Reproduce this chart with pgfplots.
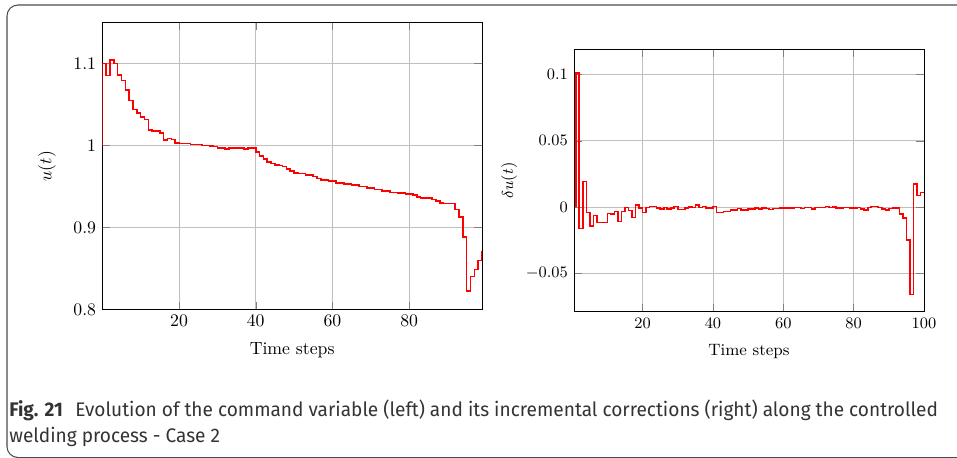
\documentclass[border=0pt]{standalone}
\usepackage{pgfplots}
\pgfplotsset{compat=1.18}
\usepackage{pgfplotstable}
\usepackage{fontspec}
\newfontfamily\capfont[FakeStretch=0.97]{Fira Sans}

\pgfplotstableread{
x y
0 1.000
1 1.100
2 1.0856
3 1.1048
4 1.100
5 1.0864
6 1.0795
7 1.068
8 1.055
9 1.044
10 1.040
11 1.0346
12 1.0318
13 1.019
14 1.0175
15 1.0175
16 1.0155
17 1.007
18 1.0086
19 1.0075
20 1.0028
21 1.0024
22 1.0024
23 1.0024
24 1.0012
25 1.0012
26 1.0012
27 1.000
28 1.000
29 0.9995
30 0.9990
31 0.997
32 0.997
33 0.9955
34 0.997
35 0.997
36 0.997
37 0.997
38 0.9955
39 0.997
40 0.997
41 0.9918
42 0.987
43 0.9837
44 0.980
45 0.978
46 0.9764
47 0.9755
48 0.9743
49 0.9715
50 0.9686
51 0.9666
52 0.966
53 0.966
54 0.9637
55 0.9637
56 0.962
57 0.960
58 0.958
59 0.958
60 0.9564
61 0.9564
62 0.9544
63 0.9544
64 0.9527
65 0.9527
66 0.952
67 0.952
68 0.950
69 0.950
70 0.9483
71 0.9483
72 0.9462
73 0.9462
74 0.9446
75 0.9446
76 0.9429
77 0.9429
78 0.9417
79 0.9417
80 0.9405
81 0.9405
82 0.9393
83 0.9368
84 0.9356
85 0.9356
86 0.9356
87 0.934
88 0.932
89 0.9295
90 0.929
91 0.929
92 0.929
93 0.9218
94 0.913
95 0.888
96 0.8227
97 0.84
98 0.8488
99 0.8594
100 0.870
}\udata

\pgfplotstableread{
x y
1 0
2 0.101
3 -0.0161
4 0.0191
5 -0.0043
6 -0.0143
7 -0.0065
8 -0.0116
9 -0.0118
10 -0.0118
11 -0.0048
12 -0.0053
13 -0.0033
14 -0.011
15 -0.0035
16 -0.0005
17 -0.0028
18 -0.008
19 0.0013
20 -0.001
21 -0.0043
22 -0.0005
23 0.0003
24 0.0003
25 -0.0008
26 -0.0015
27 -0.0005
28 -0.0015
29 -0.001
30 0.0005
31 -0.002
32 -0.002
33 -0.001
34 0.0
35 -0.0005
36 0.0013
37 -0.0005
38 0.0005
39 -0.0008
40 -0.001
41 0.0005
42 -0.0043
43 -0.0043
44 -0.0035
45 -0.0035
46 -0.0023
47 -0.0023
48 -0.0013
49 -0.0023
50 -0.0023
51 -0.0015
52 -0.0015
53 -0.001
54 -0.0015
55 -0.0008
56 -0.0013
57 -0.0018
58 -0.0013
59 -0.0013
60 -0.0010
61 -0.0010
62 -0.0010
63 -0.0010
64 -0.0005
65 -0.0005
66 -0.0013
67 -0.0005
68 -0.0005
69 -0.0015
70 -0.0003
71 -0.0003
72 -0.0003
73 0.0003
74 -0.0005
75 -0.0001
76 -0.001
77 -0.001
78 -0.0005
79 -0.0005
80 -0.001
81 -0.001
82 -0.0005
83 -0.0015
84 -0.0023
85 -0.0005
86 0.0005
87 0.0005
88 -0.0005
89 -0.0015
90 -0.0023
91 -0.0013
92 -0.0008
93 -0.0008
94 -0.0053
95 -0.0085
96 -0.025
97 -0.0659
98 0.0173
99 0.0085
100 0.011
}\dudata

\begin{document}
\begin{tikzpicture}
\useasboundingbox (0pt,0pt) rectangle (540.32pt,258.02pt);
\begin{scope}
\clip (0pt,0pt) rectangle (540.32pt,258.02pt);
\draw[black!70, line width=0.6pt, rounded corners=6.2pt] (548pt,255.2pt) -- (3.95pt,255.2pt) -- (3.95pt,-0.3pt) -- (548pt,-0.3pt);
\end{scope}

\begin{axis}[
  at={(57.76pt,83.39pt)}, anchor=south west,
  scale only axis, width=214.4pt, height=161.8pt,
  xmin=0, xmax=99, ymin=0.8, ymax=1.15,
  xtick={20,40,60,80}, ytick={0.8,0.9,1,1.1},
  grid=major,
  xlabel={Time steps}, ylabel={$u(t)$},
  xlabel style={yshift=-2pt},
  ylabel style={at={(axis description cs:-0.1456,0.5)}, anchor=center},
]
\addplot[color=red, line width=0.9pt, line join=miter, const plot mark right] table[x=x,y=y] {\udata};
\end{axis}

\begin{axis}[
  at={(324.08pt,82.04pt)}, anchor=south west,
  scale only axis, width=197.6pt, height=148.2pt,
  xmin=0.5, xmax=100, ymin=-0.079, ymax=0.119,
  xtick={20,40,60,80,100}, ytick={-0.05,0,0.05,0.1},
  scaled y ticks=false,
  yticklabel style={/pgf/number format/fixed, /pgf/number format/precision=2},
  grid=major,
  font=\fontsize{9.3}{11}\selectfont,
  xlabel={Time steps}, ylabel={$\delta u(t)$},
  xlabel style={yshift=-2pt},
  ylabel style={at={(axis description cs:-0.1857,0.5)}, anchor=center},
]
\addplot[color=red, line width=0.9pt, line join=miter, const plot mark right] table[x=x,y=y] {\dudata};
\end{axis}

\node[anchor=base west, inner sep=0pt, text=black!80] at (5.08pt,23.15pt) {\capfont\fontsize{11.1}{12}\selectfont\textbf{Fig. 21}};
\node[anchor=base west, inner sep=0pt, text=black!80] at (42.35pt,23.15pt) {\capfont\fontsize{11.1}{12}\selectfont Evolution of the command variable (left) and its incremental corrections (right) along the controlled};
\node[anchor=base west, inner sep=0pt, text=black!80] at (5.08pt,8.47pt) {\capfont\fontsize{11.1}{12}\selectfont welding process - Case 2};
\end{tikzpicture}
\end{document}
